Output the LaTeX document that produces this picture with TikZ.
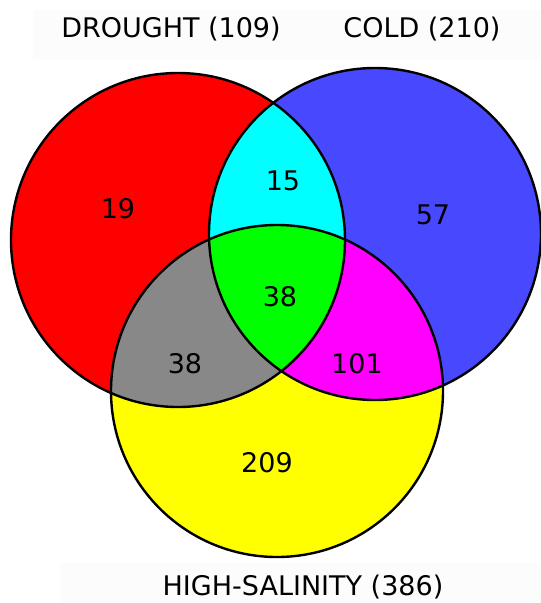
\documentclass[tikz,border=0pt]{standalone}
\usepackage{fontspec}
\setmainfont{DejaVu Sans}
\definecolor{vred}{RGB}{255,0,0}
\definecolor{vblue}{RGB}{72,72,255}
\definecolor{vyellow}{RGB}{255,255,0}
\definecolor{vcyan}{RGB}{0,255,255}
\definecolor{vgray}{RGB}{136,136,136}
\definecolor{vmag}{RGB}{255,0,255}
\definecolor{vgreen}{RGB}{0,255,0}
\definecolor{faint}{RGB}{252,252,252}
\begin{document}
\begin{tikzpicture}[x=1pt,y=-1pt,
  lbl/.style={font=\fontsize{27}{31}\selectfont, anchor=base, inner sep=0pt},
  ring/.style={draw=black, line width=2.4pt}]
\useasboundingbox[fill=white] (0,0) rectangle (541,603);
\fill[faint] (33,10) rectangle (541,60);
\fill[faint] (60,563) rectangle (541,603);
\coordinate (R) at (178,240);
\coordinate (B) at (375,234);
\coordinate (Y) at (277,391);
\fill[vred] (R) circle[radius=167pt];
\fill[vblue] (B) circle[radius=166pt];
\fill[vyellow] (Y) circle[radius=166pt];
\begin{scope}
  \clip (R) circle[radius=167pt];
  \fill[vcyan] (B) circle[radius=166pt];
  \fill[vgray] (Y) circle[radius=166pt];
\end{scope}
\begin{scope}
  \clip (B) circle[radius=166pt];
  \fill[vmag] (Y) circle[radius=166pt];
  \clip (R) circle[radius=167pt];
  \fill[vgreen] (Y) circle[radius=166pt];
\end{scope}
\draw[ring] (R) circle[radius=167pt];
\draw[ring] (B) circle[radius=166pt];
\draw[ring] (Y) circle[radius=166pt];
\node[lbl] (tD) at (171,37) {DROUGHT (109)};
\node[lbl] (tC) at (422,37) {COLD (210)};
\node[lbl] (tH) at (303,595) {HIGH-SALINITY (386)};
\node[lbl] (n19) at (118,218) {19};
\node[lbl] (n15) at (283,190) {15};
\node[lbl] (n57) at (433,224) {57};
\node[lbl] (n38c) at (280,306) {38};
\node[lbl] (n38g) at (185,373) {38};
\node[lbl] (n101) at (357,373) {101};
\node[lbl] (n209) at (267,472) {209};
\end{tikzpicture}
\end{document}
